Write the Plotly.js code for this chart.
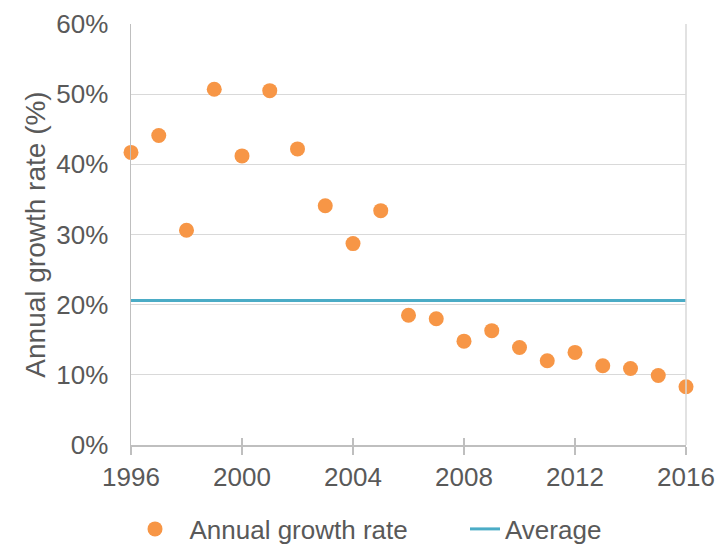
<!DOCTYPE html>
<html>
<head>
<meta charset="utf-8">
<script src="https://cdn.plot.ly/plotly-3.0.1.min.js"></script>
<style>
  html, body { margin: 0; padding: 0; background: #fff; }
  #chart { width: 718px; height: 545px; }
</style>
</head>
<body>
<div id="chart"></div>
<script>
// Annual growth rate by year, in percent
const years = [1996, 1997, 1998, 1999, 2000, 2001, 2002, 2003, 2004, 2005, 2006,
               2007, 2008, 2009, 2010, 2011, 2012, 2013, 2014, 2015, 2016];
const growthRate = [41.7, 44.1, 30.6, 50.7, 41.2, 50.5, 42.2, 34.1, 28.7, 33.4, 18.5,
                    18.0, 14.8, 16.3, 13.9, 12.0, 13.2, 11.3, 10.9, 9.9, 8.3];
// Average growth rate over the period, in percent
const averageRate = 20.6;
const averageYears = [1996, 2016];
const xTicks = [1996, 2000, 2004, 2008, 2012, 2016];
const yTicks = [0, 10, 20, 30, 40, 50, 60];
const yTickText = yTicks.map(v => v + '%');

const textColor = '#595959';
const fontFamily = 'Liberation Sans, Arial, sans-serif';

const traces = [
  {
    type: 'scatter',
    mode: 'markers',
    name: '\u00a0\u00a0Annual growth rate',
    x: years,
    y: growthRate,
    marker: { color: '#F79646', size: 15 },
    cliponaxis: false,
    legend: 'legend'
  },
  {
    type: 'scatter',
    mode: 'lines',
    name: 'Average',
    x: averageYears,
    y: averageYears.map(() => averageRate),
    line: { color: '#4BACC6', width: 3 },
    legend: 'legend2'
  },
  // invisible point so the overlay axis is drawn
  {
    type: 'scatter', mode: 'markers', x: [1996], y: [0], xaxis: 'x2', yaxis: 'y',
    marker: { opacity: 0 }, showlegend: false, hoverinfo: 'skip'
  }
];

const legendCommon = {
  orientation: 'h',
  xref: 'container', yref: 'container',
  yanchor: 'middle',
  font: { size: 26, color: textColor },
  bgcolor: 'rgba(0,0,0,0)',
  itemwidth: 30
};

const layout = {
  width: 718,
  height: 545,
  margin: { l: 131, r: 32, t: 24, b: 100 },
  paper_bgcolor: '#fff',
  plot_bgcolor: '#fff',
  font: { family: fontFamily, color: textColor, size: 26 },
  showlegend: true,
  legend: Object.assign({}, legendCommon, { x: 135 / 718, xanchor: 'left', y: 16 / 545 }),
  legend2: Object.assign({}, legendCommon, { x: 465 / 718, xanchor: 'left', y: 16 / 545 }),
  xaxis: {
    range: [1996, 2016],
    tickvals: xTicks,
    ticktext: xTicks.map(String),
    showgrid: false,
    zeroline: false,
    showline: true,
    linecolor: '#BFBFBF',
    linewidth: 1.5,
    ticks: 'outside',
    ticklen: 8,
    tickwidth: 1.5,
    tickcolor: '#BFBFBF',
    tickfont: { size: 26, color: textColor }
  },
  // overlay axis giving the inward half of the crossing x tick marks
  xaxis2: {
    overlaying: 'x',
    anchor: 'y',
    side: 'bottom',
    range: [1996, 2016],
    tickvals: xTicks,
    showticklabels: false,
    showgrid: false,
    zeroline: false,
    showline: false,
    ticks: 'inside',
    ticklen: 7,
    tickwidth: 1.5,
    tickcolor: '#BFBFBF'
  },
  yaxis: {
    range: [0, 60],
    tickvals: yTicks,
    ticktext: yTickText,
    showgrid: true,
    gridcolor: '#D9D9D9',
    gridwidth: 1.2,
    zeroline: false,
    showline: true,
    linecolor: '#BFBFBF',
    linewidth: 1.5,
    ticks: '',
    ticklabelstandoff: 16,
    tickfont: { size: 26, color: textColor },
    title: {
      text: 'Annual growth rate (%)',
      font: { size: 28, color: textColor },
      standoff: 2
    }
  },
  shapes: [
    {
      type: 'line', xref: 'paper', yref: 'paper',
      x0: 1, x1: 1, y0: 0, y1: 1,
      line: { color: '#D9D9D9', width: 1.5 }
    }
  ]
};

Plotly.newPlot('chart', traces, layout, { displayModeBar: false, staticPlot: true });
</script>
</body>
</html>
